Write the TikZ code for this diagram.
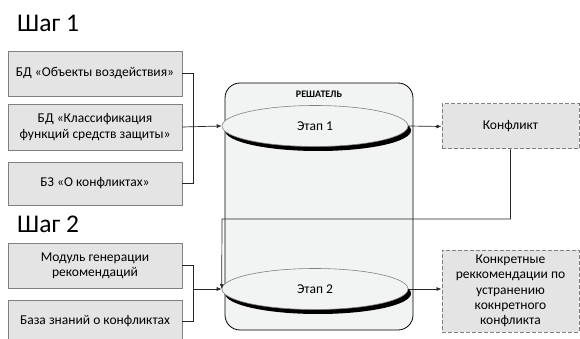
\documentclass[tikz,border=0pt]{standalone}
\usepackage{fontspec}
\setmainfont{Carlito}
\usetikzlibrary{shapes.geometric,shadows,arrows.meta}
\definecolor{boxfill}{HTML}{E4E4E4}
\definecolor{boxline}{HTML}{808080}
\definecolor{solverfill}{HTML}{F2F3F3}
\tikzset{
  srcbox/.style={draw=boxline, fill=boxfill, line width=0.8pt, minimum width=174pt, align=center, font=\fontsize{13.5}{15.3}\selectfont, inner sep=2pt},
  resbox/.style={draw=boxline, fill=boxfill, dashed, dash pattern=on 4pt off 2pt, line width=1pt, minimum width=137pt, align=center, font=\fontsize{13.5}{15.3}\selectfont, inner sep=2pt},
  stage/.style={ellipse, draw=boxline, fill=solverfill, line width=0.6pt, minimum width=186pt, minimum height=41pt, inner sep=0pt,
    drop shadow={shadow xshift=3pt, shadow yshift=-4.5pt, fill=black, opacity=1}, font=\fontsize{13.5}{15}\selectfont},
  link/.style={draw=black!85, line width=0.7pt},
  arr/.style={link, -{Latex[length=5pt,width=4pt]}},
  steplabel/.style={font=\fontsize{25.5}{28}\selectfont, anchor=base west, inner sep=0pt}
}
\begin{document}
\begin{tikzpicture}[x=1pt,y=-1pt]
\useasboundingbox[fill=white] (0,0) rectangle (580,339);

% step titles
\node[steplabel] (s1) at (17,32) {Шаг 1};
\node[steplabel] (s2) at (17,232) {Шаг 2};

% solver container
\draw[line width=0.8pt, fill=solverfill, rounded corners=15pt] (225,83) rectangle (413,330);
\node[font=\bfseries\fontsize{10}{12}\selectfont] (solver) at (319,94) {РЕШАТЕЛЬ};

% inputs of step 1
\node[srcbox, minimum height=45pt] (b1) at (95,73.5) {БД «Объекты воздействия»};
\node[srcbox, minimum height=46pt] (b2) at (95,127) {БД «Классификация\\функций средств защиты»};
\node[srcbox, minimum height=43pt] (b3) at (95,183.5) {БЗ «О конфликтах»};

% inputs of step 2
\node[srcbox, minimum height=45pt] (b4) at (95,265.5) {Модуль генерации\\рекомендаций};
\node[srcbox, minimum height=42pt] (b5) at (95,321) {База знаний о конфликтах};

% solver stages
\node[stage] (e1) at (315,126) {Этап 1};
\node[stage] (e2) at (315,289) {Этап 2};

% results
\node[resbox, minimum height=45pt] (k1) at (510.5,126.5) {Конфликт};
\node[resbox, minimum height=82pt] (k2) at (510.5,291) {Конкретные\\реккомендации по\\устранению\\кокнретного\\конфликта};

% junctions
\coordinate (bus1) at (193,127);
\coordinate (bus2) at (193,289);
\coordinate (turn) at (222,219);

% step 1 wiring
\draw[link] (b1.east) -| (bus1);
\draw[link] (b3.east) -| (bus1);
\draw[arr] (b2.east) -- (e1.west);
\draw[arr] (e1.east) -- (k1.west);

% step 2 wiring
\draw[link] (b4.east) -| (bus2);
\draw[link] (b5.east) -| (bus2);
\draw[arr] (bus2) -- (e2.west);
\draw[arr] (k1.south) |- (turn) -- (e2.west);
\draw[arr] (e2.east) -- (e2.east -| k2.west);
\end{tikzpicture}
\end{document}
